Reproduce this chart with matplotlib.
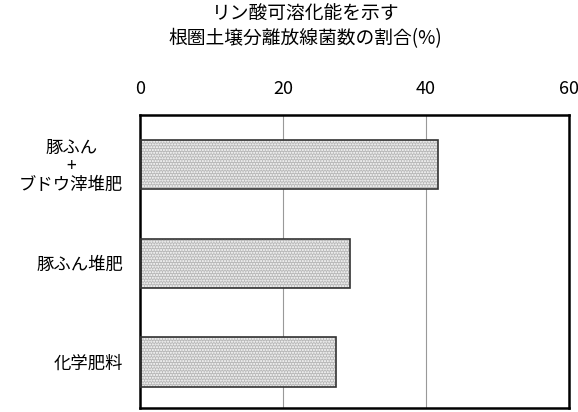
import matplotlib
matplotlib.use("Agg")
import matplotlib.pyplot as plt

plt.rcParams['font.family'] = ['Noto Sans CJK JP', 'DejaVu Sans']

# data
labels = ["豚ふん\n+\nブドウ滓堆肥", "豚ふん堆肥", "化学肥料"]
values = [41.7, 29.4, 27.4]
xticks = [0, 20, 40, 60]
title = "リン酸可溶化能を示す\n根圏土壌分離放線菌数の割合(%)"

fig = plt.figure(figsize=(5.78, 4.12), dpi=100)
ax = fig.add_axes([0.2422, 0.0097, 0.7422, 0.711])

ypos = list(range(len(labels)))
# dotted fill
ax.barh(ypos, values, height=0.5, color="#b8b8b8", edgecolor="white",
        hatch="......", linewidth=0, zorder=2)
# outline
ax.barh(ypos, values, height=0.5, fill=False, edgecolor="#333333",
        linewidth=1.2, zorder=3)

ax.set_xlim(0, 60)
ax.set_ylim(2.466, -0.5)
ax.set_xticks(xticks)
ax.xaxis.tick_top()
ax.tick_params(axis="x", length=0, pad=12, labelsize=13)
ax.set_yticks(ypos)
ax.set_yticklabels(labels, fontsize=12.5, multialignment="center",
                   linespacing=1.0)
ax.tick_params(axis="y", length=0, pad=12)
ax.grid(axis="x", color="#999999", linewidth=0.8, zorder=0)
for s in ax.spines.values():
    s.set_linewidth(1.8)
    s.set_color("black")

fig.text(0.528, 0.99, title, ha="center", va="top", fontsize=13.5,
         linespacing=1.2)

fig.savefig("out.png", dpi=100)
